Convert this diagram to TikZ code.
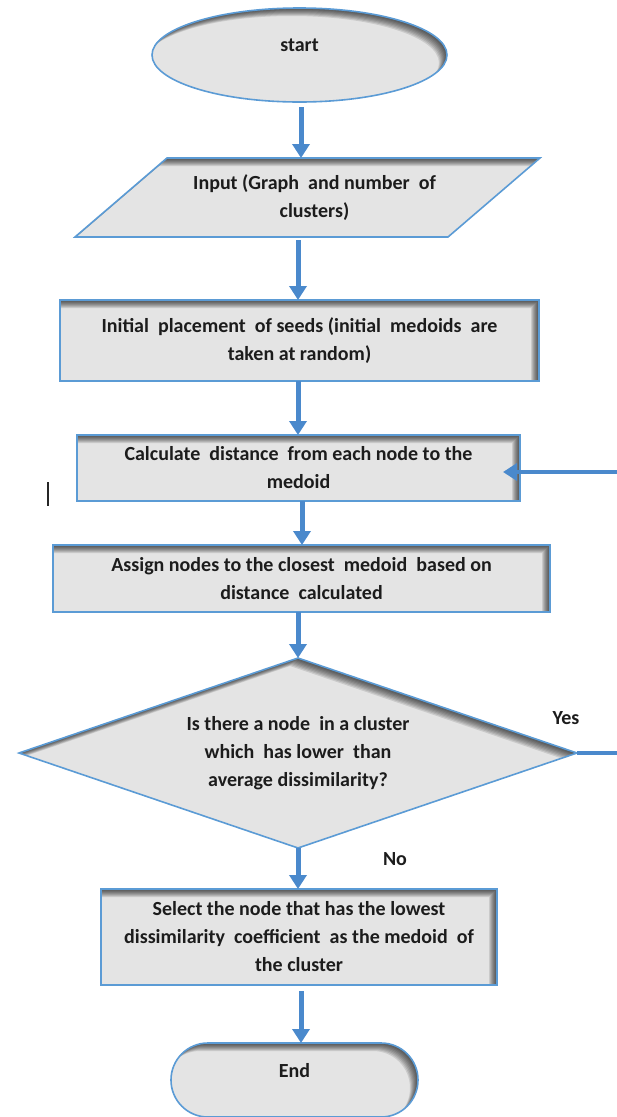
\documentclass[tikz,border=0pt]{standalone}
\usepackage{fontspec}
\setmainfont{Carlito}
\usetikzlibrary{shapes.geometric,shapes.misc,arrows.meta}
\definecolor{bd}{RGB}{91,155,213}
\definecolor{ar}{RGB}{74,137,204}
\definecolor{fl}{RGB}{228,228,228}
\definecolor{tx}{RGB}{28,28,28}
\newcommand\shp[1]{([shift={(-\so pt,-\so pt)}]#1)}
\newcommand\inshadow[1]{%
  \begin{scope}
    \def\so{0}\clip #1;
    \foreach \so in {1,...,8}{\fill[black,opacity=0.11,even odd rule] (-50,-50) rectangle (700,1200) #1;}
  \end{scope}
  \def\so{0}\draw[bd,line width=1.6pt] #1;}
\begin{document}
\begin{tikzpicture}[x=1pt,y=-1pt,
  box/.style={fill=fl, inner sep=0pt, outer sep=0pt, text=tx,
    font=\fontsize{20}{28}\selectfont\bfseries, align=center},
  txtbox/.style={inner sep=0pt, outer sep=0pt, text=tx,
    font=\fontsize{20}{28}\selectfont\bfseries, align=center},
  arr/.style={draw=ar, line width=5pt, -{Triangle[width=17pt,length=14pt]}},
  lnk/.style={draw=ar, line width=4pt},
  lbl/.style={text=tx, font=\fontsize{20}{28}\selectfont\bfseries, inner sep=0pt}]
\useasboundingbox (0,0) rectangle (617,1117);

\node[box, ellipse, minimum width=295pt, minimum height=94pt,
  text height=10pt, text depth=18pt] (start) at (299.5,55) {start};

% input parallelogram
\fill[fl] (167,158) -- (540,158) -- (448,237) -- (75,237) -- cycle;
\node[txtbox, minimum width=373pt, minimum height=79pt] (input) at (307.5,197.5)
  {\hspace*{14pt}Input (Graph~ and number~ of\\\hspace*{14pt}clusters)};

\node[box, minimum width=479pt, minimum height=81pt] (b3) at (299.5,340.5)
  {Initial~ placement~ of seeds (initial~ medoids~ are\\taken at random)};
\node[box, minimum width=443pt, minimum height=66pt] (b4) at (298.5,468)
  {Calculate~ distance~ from each node to the\\medoid};
\node[box, minimum width=497pt, minimum height=67pt] (b5) at (301.5,578.5)
  {Assign nodes to the closest~ medoid~ based on\\distance~ calculated};
\node[box, diamond, aspect=2.92, minimum width=558pt, minimum height=190pt]
  (dia) at (298,753) {Is there a node~ in a cluster\\which~ has lower~ than\\average dissimilarity?};
\node[box, minimum width=396pt, minimum height=96pt] (b6) at (299,937)
  {Select the node that has the lowest\\dissimilarity~ coefficient~ as the medoid~ of\\the cluster};
\node[box, rounded rectangle, minimum width=247pt, minimum height=74pt,
  text height=10pt, text depth=16pt] (end) at (294.5,1080) {End};

% inner shadows and borders
\inshadow{\shp{start.center} ellipse [x radius=147.5pt, y radius=47pt]}
\inshadow{\shp{167,158} -- \shp{540,158} -- \shp{448,237} -- \shp{75,237} -- cycle}
\inshadow{\shp{b3.south west} rectangle \shp{b3.north east}}
\inshadow{\shp{b4.south west} rectangle \shp{b4.north east}}
\inshadow{\shp{b5.south west} rectangle \shp{b5.north east}}
\inshadow{\shp{dia.north} -- \shp{dia.east} -- \shp{dia.south} -- \shp{dia.west} -- cycle}
\inshadow{\shp{b6.south west} rectangle \shp{b6.north east}}
\inshadow{\shp{171,1117} [rounded corners=36.9pt] rectangle \shp{418,1043}}

% connectors
\draw[arr] ([shift={(1.5pt,-5pt)}]start.south) -- ([xshift=-6.5pt]input.north);
\draw[arr] ([shift={(-9.5pt,-3pt)}]input.south) -- ([xshift=-1.5pt]b3.north);
\draw[arr] ([xshift=-1.5pt]b3.south) -- ([xshift=-0.5pt]b4.north);
\draw[arr] ([xshift=3.5pt]b4.south) -- ([xshift=0.5pt]b5.north);
\draw[arr] ([xshift=-3.5pt]b5.south) -- (dia.north);
\draw[arr] (dia.south) -- ([xshift=-1pt]b6.north);
\draw[arr] ([shift={(2pt,-6pt)}]b6.south) -- ([xshift=6.5pt]end.north);

\coordinate (yesend) at (617,753);
\coordinate (backin) at (617,472);
\draw[lnk] (dia.east) -- (yesend);
\draw[arr, line width=4pt] (backin) -- ([shift={(-17pt,-4pt)}]b4.east);

\node[lbl] (yes) at (566,718) {Yes};
\node[lbl] (no) at (395,859) {No};

\draw[black!85, line width=1.6pt] (48,482) -- (48,506);
\end{tikzpicture}
\end{document}
